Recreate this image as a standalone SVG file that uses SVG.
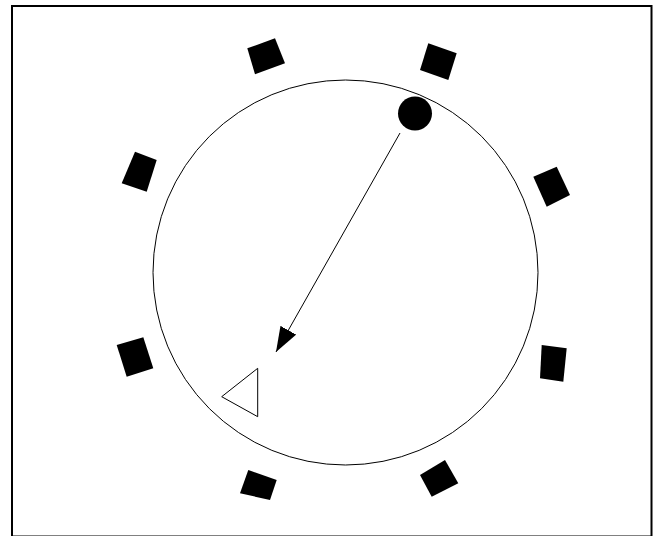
<svg xmlns="http://www.w3.org/2000/svg" width="658" height="536" viewBox="0 0 658 536">
<style>
.frame{fill:#fff;stroke:#000;stroke-width:2}
.ring{fill:none;stroke:#000;stroke-width:1}
.blk{fill:#000;stroke:none}
.edge{stroke:#000;stroke-width:1;fill:none}
.tri{fill:#fff;stroke:#000;stroke-width:1}
</style>
<defs>
<marker id="ah" markerWidth="26" markerHeight="18" refX="25" refY="9" orient="auto" markerUnits="userSpaceOnUse">
<path d="M0,0 L25,9 L0,18 Z" fill="#000"/>
</marker>
</defs>
<rect class="frame" x="12" y="6" width="639.5" height="530.5"/>
<circle class="ring" cx="345.5" cy="272.5" r="192.5"/>
<g id="s1"><polygon class="blk" points="247.3,48.3 275,38.3 285,63.3 255,74.3"/></g>
<g id="s2"><polygon class="blk" points="428.3,43.3 456.7,53.3 448.3,80 420,70"/></g>
<g id="s3"><polygon class="blk" points="135,151.7 156.7,160 146.7,191.7 121.7,183.3"/></g>
<g id="s4"><polygon class="blk" points="533.3,176.7 556.7,166.7 570,195 546.7,206.7"/></g>
<g id="s5"><polygon class="blk" points="116.7,345 143.3,337.3 153.3,368.3 126.7,376.7"/></g>
<g id="s6"><polygon class="blk" points="541.7,345 566.7,348.3 563.3,381.7 540,378.3"/></g>
<g id="s7"><polygon class="blk" points="248.3,470 276.7,480 270,500 240,493.3"/></g>
<g id="s8"><polygon class="blk" points="445,460 458.3,483.3 431.7,496.7 420,475"/></g>
<g id="dot"><circle class="blk" cx="415" cy="113.5" r="17"/></g>
<g id="target"><polygon class="tri" points="257.7,368.3 221.7,396.7 257.7,416.7"/></g>
<g id="connectors">
<line class="edge" x1="400" y1="133" x2="276" y2="352" marker-end="url(#ah)"/>
</g>
</svg>
